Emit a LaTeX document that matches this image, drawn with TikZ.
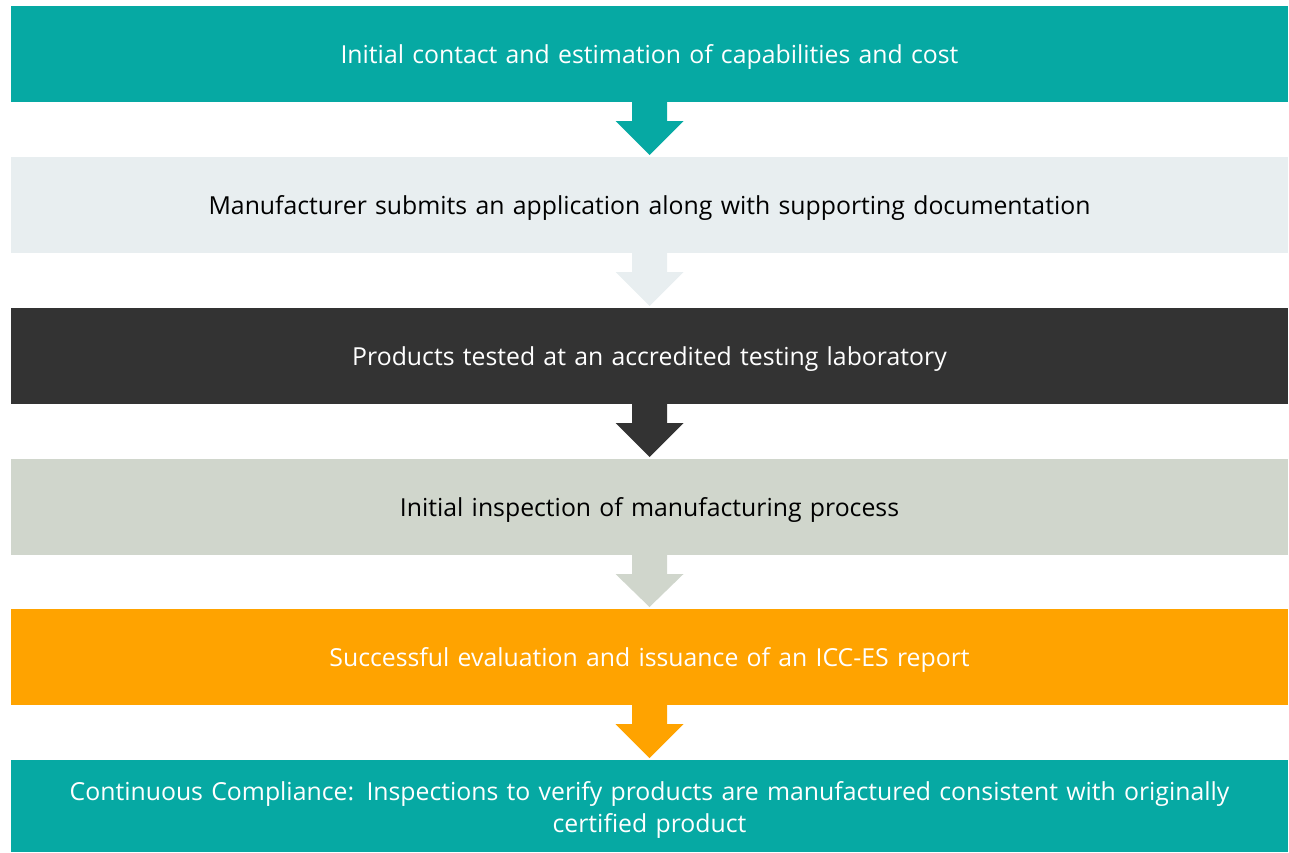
\documentclass[tikz,border=0pt]{standalone}
\usepackage{fontspec}
\setmainfont{Open Sans}
\usetikzlibrary{calc}
\definecolor{cteal}{HTML}{06A9A3}
\definecolor{clight}{HTML}{E8EEF0}
\definecolor{cdark}{HTML}{333333}
\definecolor{cgray}{HTML}{D0D6CC}
\definecolor{corange}{HTML}{FFA300}
\begin{document}
\begin{tikzpicture}[x=1pt,y=-1pt,
  stepbox/.style={minimum width=1277pt, minimum height=96pt, inner sep=0pt, outer sep=0pt,
    anchor=north west, align=center, text width=1270pt,
    text height=22pt, text depth=3.4pt,
    font=\fontsize{24.8}{32}\selectfont}]
\useasboundingbox (0,0) rectangle (1289,852);
\node[stepbox, fill=cteal, text=white] (b1) at (11,6) {Initial contact and estimation of capabilities and cost};
\node[stepbox, fill=clight, text=black] (b2) at (11,157) {Manufacturer submits an application along with supporting documentation};
\node[stepbox, fill=cdark, text=white] (b3) at (11,308) {Products tested at an accredited testing laboratory};
\node[stepbox, fill=cgray, text=black] (b4) at (11,459) {Initial inspection of manufacturing process};
\node[stepbox, fill=corange, text=white] (b5) at (11,609) {Successful evaluation and issuance of an ICC-ES report};
\node[stepbox, fill=cteal, text=white, minimum height=92pt, text height=22pt, text depth=34pt] (b6) at (11,760) {Continuous Compliance: Inspections to verify products are manufactured consistent with originally\\certified product};
\foreach \a/\b/\c in {b1/b2/cteal, b2/b3/clight, b3/b4/cdark, b4/b5/cgray, b5/b6/corange} {
  \fill[\c] ($(\a.south)+(-17.5,0)$) -- ++(0,19) -- ++(-16.5,0) -- ($(\b.north)+(0,-2)$)
    -- ($(\a.south)+(34,19)$) -- ++(-16.5,0) -- ($(\a.south)+(17.5,0)$) -- cycle;
}
\end{tikzpicture}
\end{document}
